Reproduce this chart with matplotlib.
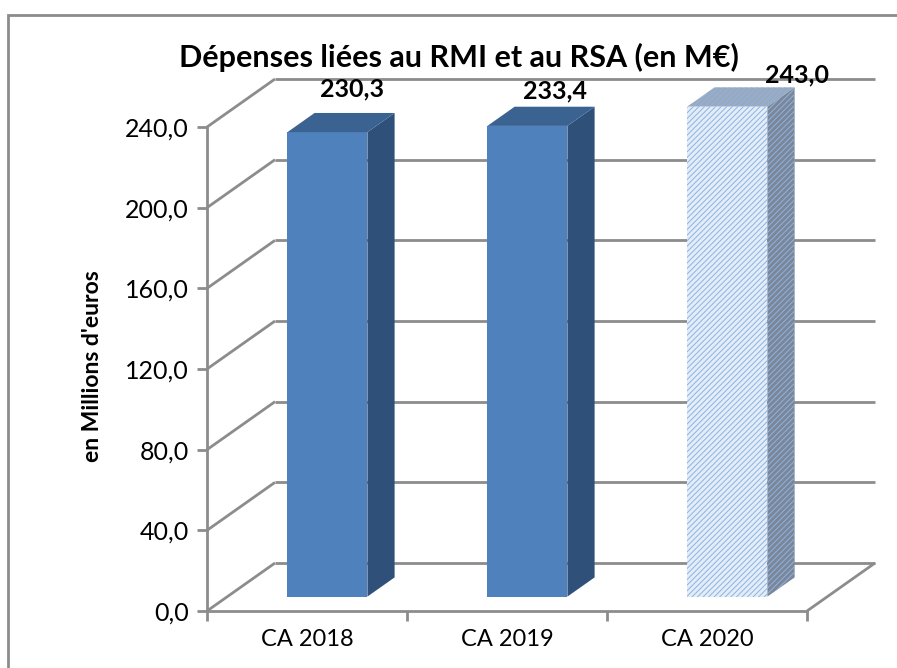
import matplotlib.pyplot as plt
from matplotlib.patches import Polygon, Rectangle

plt.rcParams['font.family'] = ['Lato', 'DejaVu Sans']
plt.rcParams['hatch.linewidth'] = 0.7

categories = ['CA 2018', 'CA 2019', 'CA 2020']
values = [230.3, 233.4, 243.0]
yticks = [0, 40, 80, 120, 160, 200, 240]

# depth of the 3d box (category units, value units)
DX, DY = 0.34, 23.8
BAR_W = 0.4
GRID = '#8c8c8c'

front = ['#4f81bd', '#4f81bd', '#e3edf8']
side = ['#2f5079', '#2f5079', '#7b8799']
top = ['#3b6392', '#3b6392', '#9aa9bd']
hatch = [None, None, '//////']
hatch_col = [None, None, '#8db3e2']
label_dx = [0.225, 0.24, 0.45]
label_dy = [28.5, 24.5, 23]


def fmt(v):
    return f'{v:.1f}'.replace('.', ',')


def line(ax, xs, ys, **kw):
    ax.plot(xs, ys, color=GRID, lw=2, clip_on=False, solid_capstyle='butt', **kw)


def draw_bar(ax, i, v):
    x0 = i - BAR_W / 2 + 0.3 * DX
    y0 = 0.3 * DY
    ddx, ddy = 0.4 * DX, 0.4 * DY
    kw = dict(clip_on=False, zorder=3, lw=0)
    if hatch[i]:
        kw.update(hatch=hatch[i], edgecolor=hatch_col[i])
    ax.add_patch(Rectangle((x0, y0), BAR_W, v, facecolor=front[i], **kw))
    ax.add_patch(Polygon([(x0 + BAR_W, y0), (x0 + BAR_W + ddx, y0 + ddy),
                          (x0 + BAR_W + ddx, y0 + ddy + v), (x0 + BAR_W, y0 + v)],
                         facecolor=side[i], **kw))
    ax.add_patch(Polygon([(x0, y0 + v), (x0 + ddx, y0 + ddy + v),
                          (x0 + BAR_W + ddx, y0 + ddy + v), (x0 + BAR_W, y0 + v)],
                         facecolor=top[i], **kw))
    ax.text(i + label_dx[i], v + label_dy[i], fmt(v), ha='center', va='center',
            fontsize=18, fontweight='bold', zorder=5)


fig = plt.figure(figsize=(8.97, 6.68), dpi=100)
ax = fig.add_axes([207 / 897, 57 / 668, 600 / 897, 484 / 668])
ax.set_xlim(-0.5, 2.5)
ax.set_ylim(0, 240)

# walls: left diagonals and back gridlines
for v in yticks:
    line(ax, [-0.5, -0.5 + DX], [v, v + DY], zorder=1)
    line(ax, [-0.5 + DX, 2.5 + DX], [v + DY, v + DY], zorder=1)
# floor right edge
line(ax, [2.5, 2.5 + DX], [0, DY], zorder=1)

for i, v in enumerate(values):
    draw_bar(ax, i, v)

for s in ['top', 'right']:
    ax.spines[s].set_visible(False)
for s in ['left', 'bottom']:
    ax.spines[s].set_color(GRID)
    ax.spines[s].set_linewidth(2)
    ax.spines[s].set_zorder(4)

ax.set_yticks(yticks)
ax.set_yticklabels([fmt(v) for v in yticks], fontsize=18)
ax.set_xticks([-0.5, 0.5, 1.5, 2.5])
ax.set_xticklabels([])
ax.set_xticks(range(len(categories)), minor=True)
ax.set_xticklabels(categories, minor=True, fontsize=17)
ax.tick_params(axis='both', which='major', color=GRID, width=2, length=7)
ax.tick_params(axis='x', which='minor', length=0, pad=13)
ax.tick_params(axis='y', pad=6)

fig.text(92 / 897, 1 - 366 / 668, "en Millions d'euros", rotation=90,
         ha='center', va='center', fontsize=16.5, fontweight='bold')
fig.text(459 / 897, 1 - 57 / 668, 'Dépenses liées au RMI et au RSA (en M€)',
         ha='center', va='center', fontsize=22, fontweight='bold')

# chart frame
fig.add_artist(Rectangle((8 / 897, -0.05), 1.0, 1 - 15 / 668 + 0.05,
                         transform=fig.transFigure, fill=False,
                         edgecolor=GRID, lw=2))

fig.savefig('out.png', dpi=100)
